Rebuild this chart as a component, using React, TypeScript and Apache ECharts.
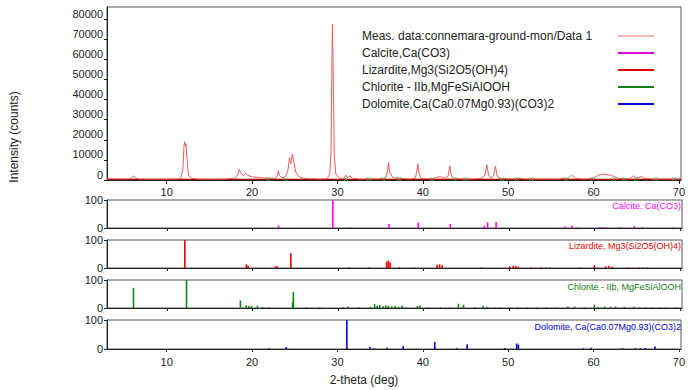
import React, { useEffect, useRef } from "react";
import * as echarts from "echarts";

const X_MIN = 3;
const X_MAX = 70.25;
const xTickValues = [10, 20, 30, 40, 50, 60, 70];
const mainYTicks = [0, 10000, 20000, 30000, 40000, 50000, 60000, 70000, 80000];
const stickYTicks = [0, 100];

// measured profile [2theta, counts]
const measured: [number, number][] = [
  [3, 600], [5.5, 500], [5.85, 800], [6.1, 2100], [6.35, 900], [6.7, 500], [8, 450], [10, 450],
  [11.4, 500], [11.7, 1500], [11.9, 6000], [12.03, 17500], [12.1, 19000], [12.17, 17000], [12.25, 18000],
  [12.4, 9000], [12.55, 2500], [12.9, 900], [13.5, 500], [15, 400], [17, 500], [18.0, 900], [18.3, 2500],
  [18.5, 5300], [18.75, 3000], [19.0, 2200], [19.25, 3300], [19.5, 2400], [20, 1500], [21, 1200],
  [22, 800], [22.8, 900], [22.97, 2500], [23.07, 4600], [23.2, 2200], [23.5, 1000], [23.9, 1600],
  [24.2, 5000], [24.38, 11100], [24.52, 8000], [24.72, 12900], [24.9, 9000], [25.1, 4000], [25.5, 1500],
  [26.2, 700], [28, 500], [28.8, 700], [29.1, 3000], [29.25, 15000], [29.33, 50000], [29.41, 77500],
  [29.48, 60000], [29.54, 40000], [29.63, 12000], [29.8, 3000], [30.2, 900], [30.75, 800], [30.98, 2500],
  [31.15, 1200], [31.42, 2000], [31.7, 1000], [32.5, 500], [35, 600], [35.6, 900], [35.85, 4000],
  [35.98, 8600], [36.12, 4000], [36.5, 1200], [37.0, 1000], [37.5, 800], [38.5, 500], [39.1, 800],
  [39.28, 4000], [39.41, 8000], [39.55, 3500], [39.8, 700], [41.2, 600], [41.6, 1200], [42.0, 1600],
  [42.4, 1200], [42.8, 800], [43.0, 2500], [43.16, 7000], [43.32, 2500], [43.6, 700], [45.5, 500],
  [46.8, 700], [47.25, 2000], [47.5, 7600], [47.7, 2500], [48.0, 1000], [48.3, 2000], [48.51, 7000],
  [48.72, 1800], [49.1, 700], [50.5, 500], [51.2, 800], [52, 500], [56.0, 500], [56.55, 1000],
  [57.0, 700], [57.42, 2500], [57.8, 1000], [58.3, 600], [59.3, 500], [60.0, 1000], [60.5, 2200],
  [61.0, 2900], [61.5, 2600], [62.0, 2400], [62.5, 1500], [63.0, 700], [64.2, 600], [64.68, 2000],
  [65.1, 800], [65.62, 1700], [66.0, 800], [67, 500], [70.25, 500]
];

const backgroundCurve: [number, number][] = [
  [3, 350], [15, 300], [30, 350], [45, 300], [60, 350], [70.25, 350]
];

const bgPointAngles = [21.9, 24.0, 31.0, 33.7, 35.4, 37.2, 41.1, 43.7, 45.0, 49.3, 51.0, 52.7, 56.8, 59.8, 62.4, 63.6, 65.0, 67.3, 69.4];
const bgPointCounts = [450, 450, 450, 450, 450, 450, 450, 450, 450, 450, 450, 450, 450, 450, 450, 450, 450, 450, 450];

const calcite: [number, number][] = [
  [23.06, 9], [29.41, 100], [31.44, 4], [35.97, 14], [39.41, 19], [43.16, 14], [47.12, 8], [47.51, 20],
  [48.51, 21], [56.57, 5], [57.41, 9], [58.09, 2], [60.68, 4], [60.98, 3], [61.4, 2], [63.06, 4],
  [64.68, 7], [65.62, 3], [69.21, 2]
];

const lizardite: [number, number][] = [
  [12.1, 100], [19.3, 13], [19.5, 8], [22.7, 6], [22.9, 6], [24.5, 53], [31.3, 3], [33.7, 3],
  [35.7, 22], [35.9, 27], [36.1, 20], [37.2, 3], [38.9, 2], [41.6, 12], [41.9, 13], [42.2, 10],
  [46.8, 2], [50.1, 6], [50.5, 8], [50.8, 7], [51.1, 5], [52.6, 2], [53.8, 2], [54.3, 2], [54.8, 2],
  [58.4, 2], [60.0, 10], [61.3, 6], [61.7, 7], [62.1, 5], [63.9, 2], [65.2, 2], [65.7, 2], [66.2, 2]
];

const chlorite: [number, number][] = [
  [6.1, 72], [12.3, 100], [18.6, 27], [19.3, 10], [19.6, 7], [19.9, 6], [20.6, 8], [21.2, 3], [21.9, 3],
  [24.7, 20], [24.8, 57], [26.3, 2], [27.9, 2], [30.6, 3], [31.2, 5], [32.5, 2], [33.8, 4], [34.3, 14],
  [34.6, 8], [34.9, 10], [35.3, 6], [35.6, 9], [35.9, 8], [36.3, 6], [36.7, 7], [37.1, 3], [37.5, 9],
  [38.0, 3], [39.3, 7], [39.6, 8], [40.5, 2], [42.0, 3], [43.1, 2], [44.1, 15], [44.7, 12], [46.0, 2],
  [47.0, 8], [47.5, 4], [48.3, 2], [49.0, 2], [50.1, 2], [51.0, 2], [52.1, 2], [53.2, 2], [54.4, 2],
  [55.5, 2], [56.9, 5], [57.7, 5], [58.8, 2], [60.0, 12], [60.4, 3], [61.2, 5], [61.9, 4], [62.5, 5],
  [63.5, 4], [64.6, 5], [65.3, 2], [66.0, 3], [66.8, 2], [67.6, 2], [68.4, 2], [69.5, 3]
];

const dolomite: [number, number][] = [
  [22.0, 3], [24.0, 7], [31.1, 100], [33.8, 7], [34.3, 3], [35.8, 4], [37.7, 10], [41.4, 24], [44.0, 3],
  [45.2, 16], [49.6, 3], [51.0, 19], [51.2, 15], [58.8, 2], [59.7, 4], [63.4, 3], [64.9, 3], [65.5, 3],
  [66.1, 3], [67.2, 9]
];

const legendNames = [
  "Meas. data:connemara-ground-mon/Data 1",
  "Calcite,Ca(CO3)",
  "Lizardite,Mg3(Si2O5(OH)4)",
  "Chlorite - IIb,MgFeSiAlOOH",
  "Dolomite,Ca(Ca0.07Mg0.93)(CO3)2"
];
const legendColors = ["#f07878", "#e000e0", "#e00000", "#108010", "#0000d0"];

const phaseLabels = [
  "Calcite, Ca(CO3)",
  "Lizardite, Mg3(Si2O5(OH)4)",
  "Chlorite - IIb, MgFeSiAlOOH",
  "Dolomite, Ca(Ca0.07Mg0.93)(CO3)2"
];
const phaseColors = ["#ff00ff", "#ee0000", "#108010", "#0000e0"];
const phaseData = [calcite, lizardite, chlorite, dolomite];

const FONT = "Arial, 'Liberation Sans', sans-serif";
const TEXT = "#222";

export default function App() {
  const ref = useRef<HTMLDivElement>(null);
  useEffect(() => {
    if (!ref.current) return;
    const chart = echarts.init(ref.current, undefined, { renderer: "svg" });

    const gridTops = [7, 200, 240, 280, 320];
    const gridHeights = [173, 28, 28, 28, 29];
    const grids = gridTops.map((t, i) => ({
      left: 107,
      top: t,
      width: 575,
      height: gridHeights[i],
      show: true,
      borderColor: "#555",
      borderWidth: 1,
      containLabel: false
    }));

    const plain = (v: number) => String(v);

    const xAxes = gridTops.map((_, i) => ({
      gridIndex: i,
      type: "value",
      min: X_MIN,
      max: X_MAX,
      axisLine: { show: true, onZero: false, lineStyle: { color: "#222", width: 1 } },
      axisTick: {
        show: true,
        customValues: xTickValues,
        length: i === 0 ? 4 : 3,
        lineStyle: { color: "#222" }
      },
      axisLabel: {
        show: i === 0 || i === 4,
        customValues: xTickValues,
        formatter: plain,
        fontSize: 11,
        fontFamily: FONT,
        color: TEXT,
        margin: i === 0 ? 6 : 7
      },
      splitLine: { show: false }
    }));

    const yAxes: any[] = [
      {
        gridIndex: 0,
        type: "value",
        min: 0,
        max: 86000,
        axisLine: { show: true, lineStyle: { color: "#222" } },
        axisTick: { show: true, customValues: mainYTicks, length: 3, lineStyle: { color: "#222" } },
        axisLabel: {
          customValues: mainYTicks,
          formatter: plain,
          fontSize: 11,
          fontFamily: FONT,
          color: TEXT,
          margin: 4,
          verticalAlign: "bottom"
        },
        splitLine: { show: false }
      }
    ];
    for (let i = 1; i <= 4; i++) {
      yAxes.push({
        gridIndex: i,
        type: "value",
        min: 0,
        max: 100,
        axisLine: { show: true, lineStyle: { color: "#222" } },
        axisTick: { show: true, customValues: stickYTicks, length: 3, lineStyle: { color: "#222" } },
        axisLabel: {
          customValues: stickYTicks,
          formatter: plain,
          fontSize: 11,
          fontFamily: FONT,
          color: TEXT,
          margin: 4
        },
        splitLine: { show: false }
      });
    }

    const series: any[] = [
      {
        type: "line",
        name: "measured",
        xAxisIndex: 0,
        yAxisIndex: 0,
        data: measured,
        showSymbol: false,
        lineStyle: { color: "#f05858", width: 1 },
        z: 3
      },
      {
        type: "line",
        name: "background",
        xAxisIndex: 0,
        yAxisIndex: 0,
        data: backgroundCurve,
        showSymbol: false,
        lineStyle: { color: "#a00000", width: 1.2 },
        z: 2
      },
      {
        type: "scatter",
        name: "bgpoints",
        xAxisIndex: 0,
        yAxisIndex: 0,
        data: bgPointAngles.map((a, i) => [a, bgPointCounts[i]]),
        symbol: "path://M0,0L10,10M10,0L0,10",
        symbolSize: 4,
        itemStyle: { color: "#40b040", borderColor: "#40b040", borderWidth: 1 },
        z: 4
      }
    ];
    phaseData.forEach((d, i) => {
      series.push({
        type: "bar",
        name: phaseLabels[i],
        xAxisIndex: i + 1,
        yAxisIndex: i + 1,
        data: d,
        barWidth: 1.6,
        itemStyle: { color: phaseColors[i] }
      });
    });

    const graphic: any[] = [];
    const legendRows = [36, 53, 70, 87, 104];
    legendNames.forEach((n, i) => {
      graphic.push({
        type: "text",
        x: 362,
        y: legendRows[i],
        style: {
          text: n,
          font: `12px ${FONT}`,
          fill: TEXT,
          textAlign: "left",
          textVerticalAlign: "middle"
        }
      });
      graphic.push({
        type: "line",
        shape: { x1: 618, y1: legendRows[i], x2: 654, y2: legendRows[i] },
        style: { stroke: legendColors[i], lineWidth: i === 0 ? 1.2 : 2 }
      });
    });
    const labelRows = [206, 246, 287, 327];
    phaseLabels.forEach((n, i) => {
      graphic.push({
        type: "text",
        x: 681,
        y: labelRows[i],
        style: {
          text: n,
          font: `9px ${FONT}`,
          fill: phaseColors[i],
          textAlign: "right",
          textVerticalAlign: "middle"
        }
      });
    });
    graphic.push({
      type: "text",
      x: 14,
      y: 137,
      rotation: Math.PI / 2,
      style: {
        text: "Intensity (counts)",
        font: `12px ${FONT}`,
        fill: TEXT,
        textAlign: "center",
        textVerticalAlign: "middle"
      }
    });
    graphic.push({
      type: "text",
      x: 364,
      y: 380,
      style: {
        text: "2-theta (deg)",
        font: `12px ${FONT}`,
        fill: TEXT,
        textAlign: "center",
        textVerticalAlign: "middle"
      }
    });

    chart.setOption({
      animation: false,
      backgroundColor: "#fff",
      grid: grids,
      xAxis: xAxes,
      yAxis: yAxes,
      series,
      graphic
    });
    return () => chart.dispose();
  }, []);
  return (
    <div
      ref={ref}
      style={{ position: "fixed", left: 0, top: 0, width: 688, height: 390, background: "#fff" }}
    />
  );
}
